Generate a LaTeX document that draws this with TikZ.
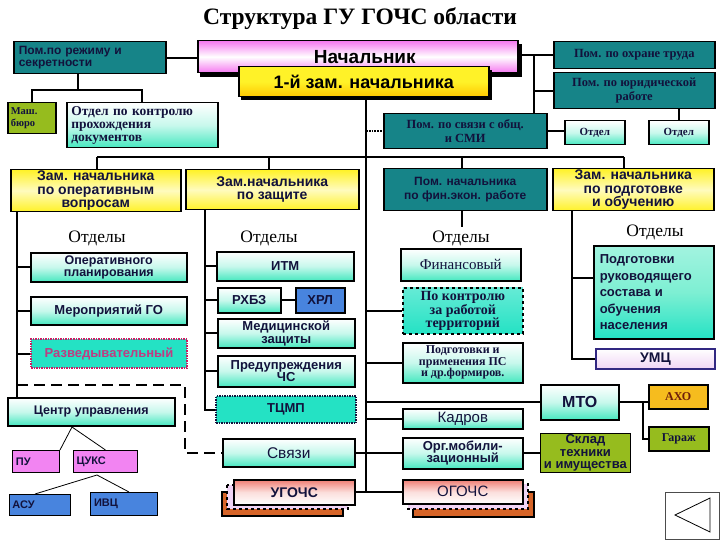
\documentclass[tikz,border=0pt]{standalone}
\usepackage{fontspec}
\setmainfont{Liberation Serif}
\setsansfont{Liberation Sans}
\definecolor{tealbx}{RGB}{22,132,136}
\definecolor{mintc}{RGB}{70,232,192}
\definecolor{turq}{RGB}{36,226,196}
\definecolor{yelc}{RGB}{255,242,40}
\definecolor{goldc}{RGB}{255,200,0}
\definecolor{olivec}{RGB}{150,188,30}
\definecolor{goldaho}{RGB}{246,188,30}
\definecolor{bluebx}{RGB}{72,132,222}
\definecolor{pinkbx}{RGB}{242,132,242}
\definecolor{navyt}{RGB}{18,18,60}
\definecolor{chiefp}{RGB}{245,120,240}
\definecolor{salmonc}{RGB}{240,125,115}
\definecolor{orangec}{RGB}{214,100,40}
\definecolor{lilacc}{RGB}{240,212,245}
\definecolor{crims}{RGB}{200,30,100}
\definecolor{razvt}{RGB}{190,60,130}
\definecolor{umcb}{RGB}{50,40,130}
\definecolor{ahot}{RGB}{110,30,10}
\newcommand\SFB[2]{\sffamily\bfseries\fontsize{#1}{#2}\selectfont}
\newcommand\SFR[2]{\sffamily\fontsize{#1}{#2}\selectfont}
\newcommand\RMB[2]{\rmfamily\bfseries\fontsize{#1}{#2}\selectfont}
\newcommand\RMR[2]{\rmfamily\fontsize{#1}{#2}\selectfont}
\tikzset{
  conn/.style={draw=black, line width=2pt},
  thinconn/.style={draw=black, line width=0.8pt},
  bx/.style={draw=black, line width=1.5pt, inner sep=1pt, anchor=north west, align=center, text=navyt},
  mintbx/.style={bx, top color=white, bottom color=mintc, middle color=mintc!30},
  tealb/.style={bx, fill=tealbx},
  yelbx/.style={bx, top color=yelc, bottom color=yelc, middle color=yelc!30},
  olivebx/.style={bx, fill=olivec},
  otd/.style={font=\RMR{17.5}{17.5}, text=black},
}
\begin{document}
\begin{tikzpicture}[x=1pt,y=-1pt]
\useasboundingbox[fill=white] (0,0) rectangle (720,540);

\node[font=\RMB{23.5}{23.5}, text=black] (title) at (360,19) {Структура ГУ ГОЧС области};

% top row
\node[tealb, minimum width=152pt, minimum height=32pt, text width=142pt, align=left, font=\SFB{12}{11.5}] (regime) at (13,41) {Пом.по режиму и\\секретности};
\fill[black] (200,44) rectangle (522,77);
\node[bx, top color=chiefp, bottom color=chiefp, middle color=white, minimum width=320pt, minimum height=32pt, font=\SFB{19}{19}, text=black] (chief) at (197,40) {\hspace*{14pt}Начальник};
\fill[black] (241,70) rectangle (492,100);
\node[bx, top color=yelc, bottom color=goldc, middle color=yelc, minimum width=250pt, minimum height=30pt, font=\SFB{18}{18}, text=black] (first) at (238,66) {1-й зам. начальника};

\node[tealb, minimum width=161pt, minimum height=27pt, font=\RMB{12.5}{12.5}] (ohrana) at (553,41) {Пом. по охране труда};
\node[tealb, minimum width=161pt, minimum height=36pt, font=\RMB{12.5}{13.5}] (yurid) at (553,72) {Пом. по юридической\\работе};
\node[tealb, minimum width=163pt, minimum height=35pt, font=\RMB{12.5}{13.5}] (smi) at (383,113) {Пом. по связи с общ.\\и СМИ};
\node[mintbx, minimum width=60pt, minimum height=24pt, font=\RMB{11}{11}] (otdel1) at (564,120) {Отдел};
\node[mintbx, minimum width=60pt, minimum height=24pt, font=\RMB{11}{11}] (otdel2) at (648,120) {Отдел};
\node[olivebx, minimum width=48pt, minimum height=31pt, text width=42pt, align=left, font=\RMB{10.5}{11.5}] (mash) at (7,102) {Маш.\\бюро};
\node[mintbx, minimum width=151pt, minimum height=45pt, text width=142pt, align=left, font=\RMB{13.5}{13}] (kontrdoc) at (66,102) {Отдел по контролю\\прохождения\\документов};

% second row
\node[yelbx, minimum width=170pt, minimum height=40pt, font=\SFB{14}{13.5}] (zop) at (10,169) {Зам. начальника\\по оперативным\\вопросам};
\node[yelbx, minimum width=173pt, minimum height=40pt, font=\SFB{14}{13.5}] (zzash) at (185,169) {Зам.начальника\\по защите};
\node[tealb, minimum width=163pt, minimum height=42pt, font=\SFB{12}{13.5}] (fin) at (383,168) {Пом. начальника\\по фин.экон. работе};
\node[yelbx, minimum width=161pt, minimum height=42pt, font=\SFB{14}{13.5}] (zpodg) at (552,168) {Зам. начальника\\по подготовке\\и обучению};

\node[otd] (lbl1) at (97,238) {Отделы};
\node[otd] (lbl2) at (269,238) {Отделы};
\node[otd] (lbl3) at (461,238) {Отделы};
\node[otd] (lbl4) at (655,232) {Отделы};

% left column
\node[mintbx, minimum width=156pt, minimum height=29pt, font=\SFB{12.5}{12.5}] (operplan) at (30,252) {Оперативного\\планирования};
\node[mintbx, minimum width=156pt, minimum height=28pt, font=\SFB{13}{13}] (meropr) at (30,296) {Мероприятий ГО};
\node[bx, fill=turq, draw=crims, densely dotted, line width=2pt, minimum width=156pt, minimum height=29pt, font=\SFB{13}{13}, text=razvt] (razved) at (30,338) {Разведывательный};
\node[mintbx, minimum width=167pt, minimum height=28pt, font=\SFB{12.5}{12}] (centr) at (7,397) {Центр управления};
\node[bx, fill=pinkbx, line width=1pt, minimum width=47pt, minimum height=22pt, text width=40pt, align=left, font=\SFB{11}{11}] (pu) at (12,450) {ПУ};
\node[bx, fill=pinkbx, line width=1pt, minimum width=64pt, minimum height=22pt, text width=58pt, align=left, font=\SFB{11}{11}] (cuks) at (73,450) {ЦУКС};
\node[bx, fill=bluebx, line width=1pt, minimum width=61pt, minimum height=21pt, text width=55pt, align=left, font=\SFB{11}{11}] (asu) at (9,494) {АСУ};
\node[bx, fill=bluebx, line width=1pt, minimum width=67pt, minimum height=23pt, text width=60pt, align=left, font=\SFB{11}{11}] (ivc) at (90,492) {ИВЦ};

% middle column
\node[mintbx, minimum width=137pt, minimum height=29pt, font=\SFB{13}{13}] (itm) at (216,251) {ИТМ};
\node[mintbx, minimum width=63pt, minimum height=25pt, font=\SFB{13}{13}] (rhbz) at (217,287) {РХБЗ};
\node[bx, fill=bluebx, minimum width=49pt, minimum height=25pt, font=\SFB{13}{13}] (hrl) at (295,287) {ХРЛ};
\node[mintbx, minimum width=137pt, minimum height=29pt, font=\SFB{13}{12.5}] (med) at (217,318) {Медицинской\\защиты};
\node[mintbx, minimum width=137pt, minimum height=31pt, font=\SFB{13}{12.5}] (preduz) at (217,355) {Предупреждения\\ЧС};
\node[bx, fill=turq, densely dotted, draw=navyt, line width=2pt, minimum width=140pt, minimum height=27pt, font=\SFB{13}{13}] (tcmp) at (215,395) {ТЦМП};
\node[mintbx, minimum width=132pt, minimum height=28pt, font=\SFR{15.5}{15.5}] (svyazi) at (222,438) {Связи};
\draw[fill=orangec, line width=1.2pt] (222,492) rectangle (343,516);
\draw[fill=lilacc, line width=1.2pt, dashed] (227,485) rectangle (348,509);
\node[bx, top color=salmonc, bottom color=white, middle color=salmonc!25, minimum width=121pt, minimum height=25pt, font=\SFB{14}{14}] (ugochs) at (233,479) {УГОЧС};

% centre-right column
\node[mintbx, minimum width=120pt, minimum height=32pt, font=\RMR{15}{15}] (finans) at (400,248) {Финансовый};
\node[bx, top color=turq!70, bottom color=turq, dashed, line width=1.6pt, minimum width=120pt, minimum height=46pt, font=\RMB{14}{13}] (kontrter) at (402,287) {По контролю\\за работой\\территорий};
\node[mintbx, minimum width=120pt, minimum height=40pt, font=\RMB{12}{11.5}] (podgps) at (402,342) {Подготовки и\\применения ПС\\и др.формиров.};
\node[mintbx, minimum width=120pt, minimum height=20pt, font=\SFR{15}{15}] (kadrov) at (402,408) {Кадров};
\node[mintbx, minimum width=120pt, minimum height=31pt, font=\SFB{13}{12.5}] (orgmob) at (402,437) {Орг.мобили-\\зационный};
\draw[fill=orangec, line width=1.2pt] (413,492) rectangle (534,517);
\draw[fill=lilacc, line width=1.2pt, dashed] (408,484) rectangle (528,509);
\node[bx, top color=salmonc, bottom color=white, middle color=salmonc!25, minimum width=120pt, minimum height=24pt, font=\SFR{15}{15}] (ogochs) at (402,479) {ОГОЧС};

% right column
\node[bx, top color=mintc!50, bottom color=turq, middle color=mintc!70, minimum width=120pt, minimum height=93pt, text width=108pt, align=left, font=\SFB{13}{16.5}] (podgruk) at (593,245) {Подготовки\\руководящего\\состава и\\обучения\\населения};
\node[bx, top color=white, bottom color=lilacc, draw=umcb, line width=2pt, minimum width=119pt, minimum height=20pt, font=\SFB{14}{14}] (umc) at (595,348) {УМЦ};
\node[mintbx, minimum width=78pt, minimum height=35pt, font=\SFB{16}{16}] (mto) at (540,384) {МТО};
\node[bx, fill=goldaho, minimum width=59pt, minimum height=24pt, font=\RMB{12}{12}, text=ahot] (aho) at (648,384) {АХО};
\node[olivebx, minimum width=60pt, minimum height=24pt, font=\RMB{12}{12}] (garazh) at (648,426) {Гараж};
\node[olivebx, line width=0.8pt, inner sep=0pt, minimum width=90pt, minimum height=39pt, font=\SFB{13}{12.5}] (sklad) at (540,433) {Склад\\техники\\и имущества};

% navigation button
\node[draw=black!70, line width=1pt, fill=white, anchor=north west, minimum width=54pt, minimum height=47pt] (nav) at (665,492) {};
\draw[line width=0.8pt] (675,515) -- (710,498) -- (710,532) -- cycle;

% ---------- connectors ----------
\coordinate (rj) at (78,90);
\draw[conn] (regime.south -| rj) -- (rj);
\draw[conn] (mash.north) |- (rj) -| (kontrdoc.north);
\draw[conn] (regime.east) -- (regime.east -| chief.west);

\coordinate (rv) at (534,0);
\draw[conn] (chief.east |- ohrana.west) -- (ohrana.west);
\draw[conn] (rv |- ohrana.west) -- (rv |- smi.north);
\draw[conn] (rv |- yurid.west) -- (yurid.west);
\draw[conn] (smi.east) -- (smi.east -| otdel1.west);
\draw[conn] (otdel2.north |- yurid.south) -- (otdel2.north);

\coordinate (xC) at (366,0);
\draw[conn] (first.south -| xC) -- (xC |- ogochs.west);
\draw[draw=black, line width=1.8pt, densely dotted] (xC |- smi.west) -- (smi.west);

\coordinate (yBus) at (0,157);
\coordinate (xB1) at (97,0);
\coordinate (xB2) at (269,0);
\coordinate (xB3) at (462,0);
\coordinate (xB4) at (624,0);
\draw[conn] (xB1 |- yBus) -- (xB4 |- yBus);
\draw[conn] (xB1 |- yBus) -- (xB1 |- zop.north);
\draw[conn] (xB2 |- yBus) -- (xB2 |- zzash.north);
\draw[conn] (xB3 |- yBus) -- (xB3 |- fin.north);
\draw[conn] (xB4 |- yBus) -- (xB4 |- zpodg.north);
\draw[conn] (xB3 |- fin.south) -- (xB3 |- lbl3.north);

% left column
\coordinate (xL) at (17,0);
\draw[conn] (xL |- zop.south) -- (xL |- centr.north);
\draw[conn] (xL |- operplan.west) -- (operplan.west);
\draw[conn] (xL |- meropr.west) -- (meropr.west);
\draw[conn] (xL |- razved.west) -- (razved.west);
\coordinate (dA) at (17,385);
\coordinate (dB) at (185,385);
\draw[conn, dash pattern=on 11pt off 6pt] (dA) -- (dB) |- (svyazi.west);

\coordinate (cuP) at (72,427);
\draw[thinconn] (cuP) -- (pu.north east);
\draw[thinconn] (cuP) -- (cuks.north);
\coordinate (ckP) at (97,475);
\draw[thinconn] (ckP) -- ([xshift=-5pt]asu.north);
\draw[thinconn] (ckP) -- ([xshift=5pt]ivc.north);

% middle column
\coordinate (xM) at (205,0);
\draw[conn] (xM |- zzash.south) |- (tcmp.west);
\draw[conn] (xM |- itm.west) -- (itm.west);
\draw[conn] (xM |- rhbz.west) -- (rhbz.west);
\draw[conn] (xM |- med.west) -- (med.west);
\draw[conn] (xM |- preduz.west) -- (preduz.west);
\draw[conn] (rhbz.east) -- (hrl.west);

% centre branches
\draw[conn] (xC |- kontrter.west) -- (kontrter.west);
\draw[conn] (xC |- podgps.west) -- (podgps.west);
\draw[conn] (xC |- mto.west) -- (mto.west);
\draw[conn] (xC |- kadrov.west) -- (kadrov.west);
\draw[conn] (svyazi.east) -- (svyazi.east -| orgmob.west);
\draw[conn] (ugochs.east) -- (ugochs.east -| ogochs.west);
\draw[conn] (orgmob.east) -- (orgmob.east -| sklad.west);

% right column
\coordinate (xR) at (572,0);
\coordinate (yPR) at (0,278);
\draw[conn] (xR |- zpodg.south) |- (umc.west);
\draw[conn] (xR |- yPR) -- (podgruk.west |- yPR);
\coordinate (xA) at (643,0);
\draw[conn] (mto.east) -- (mto.east -| aho.west);
\draw[conn] (xA |- mto.east) |- (garazh.west);
\end{tikzpicture}
\end{document}
